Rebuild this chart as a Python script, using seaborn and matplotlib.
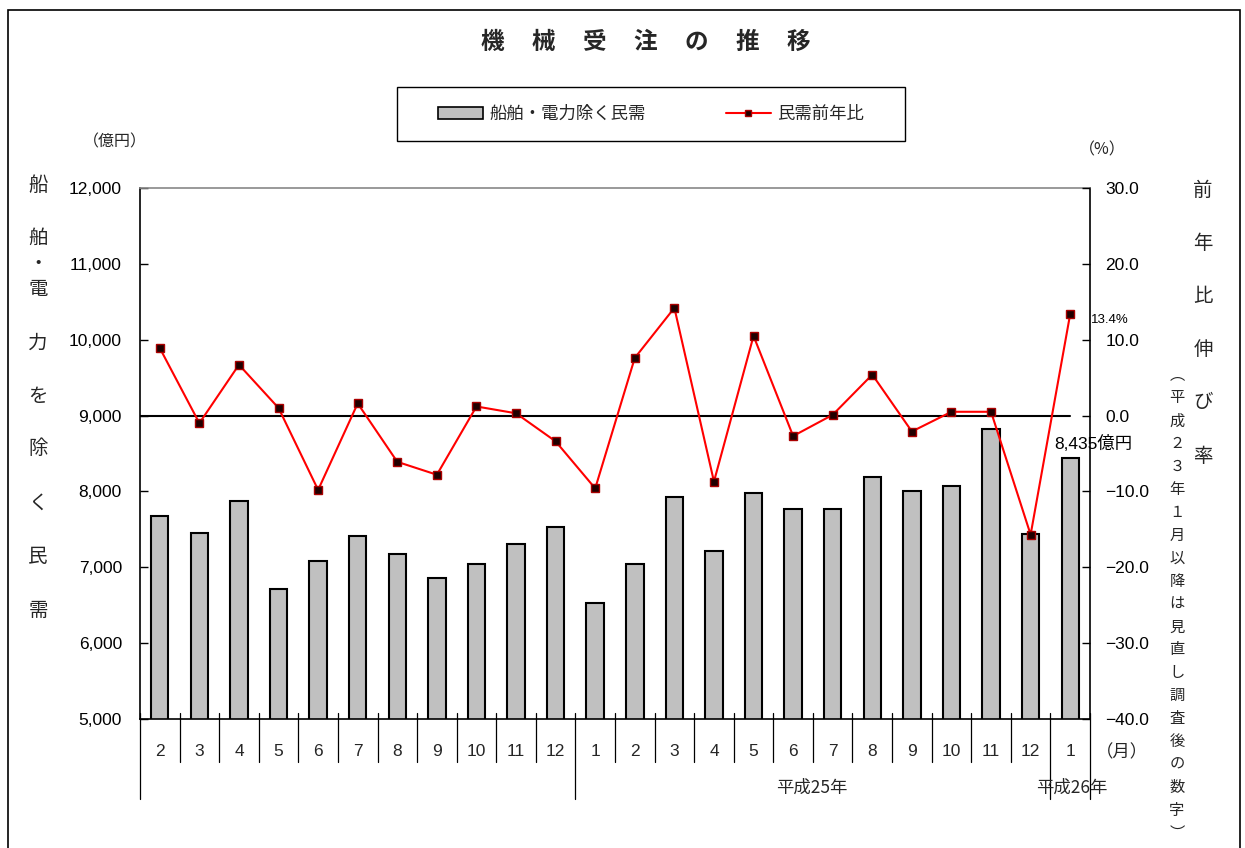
import numpy as np
import pandas as pd
import matplotlib
matplotlib.use("Agg")
import matplotlib.pyplot as plt
import matplotlib.transforms as mtransforms
from matplotlib.patches import Rectangle, Patch
from matplotlib.lines import Line2D
from matplotlib.ticker import FuncFormatter, FixedLocator
import seaborn as sns

# ---------------- data ----------------
months = ["2", "3", "4", "5", "6", "7", "8", "9", "10", "11", "12",
          "1", "2", "3", "4", "5", "6", "7", "8", "9", "10", "11", "12", "1"]
orders = [7680, 7455, 7875, 6710, 7080, 7410, 7170, 6865, 7040, 7305, 7525,
          6525, 7040, 7925, 7215, 7985, 7770, 7770, 8190, 8005, 8070, 8825, 7435, 8435]
yoy = [8.9, -1.0, 6.7, 1.0, -9.8, 1.6, -6.1, -7.8, 1.2, 0.3, -3.4,
       -9.6, 7.6, 14.2, -8.7, 10.5, -2.7, 0.1, 5.4, -2.1, 0.5, 0.5, -15.7, 13.4]
bar_label = "船舶・電力除く民需"
line_label = "民需前年比"
title_chars = list("機械受注の推移")
left_label_chars = list("船舶・電力を除く民需")
right_label_chars = list("前年比伸び率")
note_chars = ["︵"] + list("平成２３年１月以降は見直し調査後の数字") + ["︶"]
year_labels = ["平成25年", "平成26年"]
left_ticks = [5000, 6000, 7000, 8000, 9000, 10000, 11000, 12000]
right_ticks = [-40, -30, -20, -10, 0, 10, 20, 30]

df = pd.DataFrame({"idx": np.arange(len(months)), "orders": orders, "yoy": yoy})

# ---------------- style ----------------
sns.set_theme(style="white")
plt.rcParams["font.family"] = ["Liberation Sans", "Noto Sans CJK JP", "DejaVu Sans"]
JP = ["Noto Sans CJK JP", "DejaVu Sans"]

W, H = 1245, 848
fig = plt.figure(figsize=(W / 100, H / 100), dpi=100)
fig.patch.set_facecolor("white")

def fx(px):
    return px / W

def fy(py):
    return 1 - py / H

ax_l, ax_r, ax_t, ax_b = 140, 1090, 188, 719
ax = fig.add_axes([fx(ax_l), fy(ax_b), fx(ax_r - ax_l), (ax_b - ax_t) / H])

# bars
sns.barplot(data=df, x="idx", y="orders", ax=ax, color="#c0c0c0",
            edgecolor="black", linewidth=1.5, width=0.44, saturation=1)
ax.set_xlim(-0.5, len(months) - 0.5)
ax.set_ylim(5000, 12000)
ax.set_xlabel("")
ax.set_ylabel("")
ax.yaxis.set_major_locator(FixedLocator(left_ticks))
ax.yaxis.set_major_formatter(FuncFormatter(lambda v, p: f"{int(v):,}"))
ax.tick_params(axis="y", direction="in", length=6, width=1, pad=13, labelsize=12.5, colors="black")
ax.set_xticks(np.arange(len(months)))
ax.set_xticklabels(months)
ax.tick_params(axis="x", length=0, pad=18, labelsize=12.5)

for s in ["left", "right", "bottom"]:
    ax.spines[s].set_color("black")
    ax.spines[s].set_linewidth(1.2)
ax.spines["top"].set_color("#888888")
ax.spines["top"].set_linewidth(1.2)

# line on twin axis
ax2 = ax.twinx()
sns.lineplot(data=df, x="idx", y="yoy", ax=ax2, color="red", linewidth=1.5,
             marker="s", markersize=5.5, markerfacecolor="#200000",
             markeredgecolor="#aa0000", markeredgewidth=1)
ax2.set_ylim(-40, 30)
ax2.set_xlim(-0.5, len(months) - 0.5)
ax2.set_ylabel("")
ax2.set_xlabel("")
ax2.yaxis.set_major_locator(FixedLocator(right_ticks))
ax2.yaxis.set_major_formatter(FuncFormatter(lambda v, p: f"{v:.1f}".replace("-", "\u2212")))
ax2.tick_params(axis="y", direction="in", length=6, width=1, pad=11, labelsize=12.5, colors="black")
for s in ax2.spines.values():
    s.set_visible(False)
ax2.axhline(0, xmin=0, xmax=(len(months) - 0.5) / len(months),
            color="black", linewidth=1.5, zorder=1)

# category separator lines under the axis
trans = mtransforms.blended_transform_factory(ax.transData, ax.transAxes)
axh = ax_b - ax_t
long_seps = {-0.5, 10.5, 22.5, 23.5}
for b in np.arange(-0.5, len(months), 1.0):
    low = -80 / axh if b in long_seps else -43 / axh
    ax.plot([b, b], [6 / axh, low], transform=trans, color="black",
            linewidth=0.9, clip_on=False, zorder=5)

# annotations
ax.annotate(f"{orders[-1]:,}億円", xy=(len(months) - 1, orders[-1]),
            xytext=(23, 15), textcoords="offset pixels", ha="center", va="center",
            fontsize=12.5, color="black")
ax2.annotate(f"{yoy[-1]:.1f}%", xy=(len(months) - 1, yoy[-1]),
             xytext=(40, -6), textcoords="offset pixels", ha="center", va="center",
             fontsize=9.5, color="black")

# title
for i, ch in enumerate(title_chars):
    fig.text(fx(645 + (i - 3) * 51), fy(42), ch, ha="center", va="center",
             fontsize=17, fontweight="bold", family=JP)

# legend (frame drawn separately)
handles = [Patch(facecolor="#c0c0c0", edgecolor="black", linewidth=1.2),
           Line2D([0], [0], color="red", linewidth=1.5, marker="s", markersize=5,
                  markerfacecolor="#200000", markeredgecolor="#aa0000")]
leg = fig.legend(handles, [bar_label, line_label], loc="center",
                 bbox_to_anchor=(fx(651), fy(114)), ncol=2, frameon=False,
                 columnspacing=4.6, handlelength=2.6, handleheight=0.75,
                 handletextpad=0.35, borderpad=0, borderaxespad=0,
                 prop={"family": JP, "size": 12.5})
fig.patches.append(Rectangle((fx(397), fy(141)), fx(905 - 397), (141 - 87) / H,
                             transform=fig.transFigure, fill=False,
                             edgecolor="black", linewidth=1.0))

# unit labels
fig.text(fx(115), fy(142), "（億円）", ha="center", va="center", fontsize=11.5, family=JP)
fig.text(fx(1102), fy(150), "（%）", ha="center", va="center", fontsize=11.5, family=JP)
fig.text(fx(1122), fy(752), "（月）", ha="center", va="center", fontsize=12.5, family=JP)

# year labels
fig.text(fx(812), fy(788), year_labels[0], ha="center", va="center", fontsize=12.5, family=JP)
fig.text(fx(1072), fy(788), year_labels[1], ha="center", va="center", fontsize=12.5, family=JP)

# left vertical label
left_y = [185, 238, 264, 290, 343, 396, 449, 503, 557, 610]
for ch, y in zip(left_label_chars, left_y):
    fig.text(fx(38), fy(y), ch, ha="center", va="center", fontsize=14, family=JP)

# right vertical label
for i, ch in enumerate(right_label_chars):
    fig.text(fx(1203), fy(190 + i * 53.2), ch, ha="center", va="center", fontsize=14, family=JP)

# vertical note
for i, ch in enumerate(note_chars):
    fig.text(fx(1177), fy(375 + i * 22.9), ch, ha="center", va="center", fontsize=11, family=JP)

# outer border
fig.patches.append(Rectangle((fx(8), -0.02), fx(1240 - 8), fy(10) + 0.02,
                             transform=fig.transFigure, fill=False,
                             edgecolor="black", linewidth=1.2))

fig.savefig("out.png", dpi=100, facecolor="white")
